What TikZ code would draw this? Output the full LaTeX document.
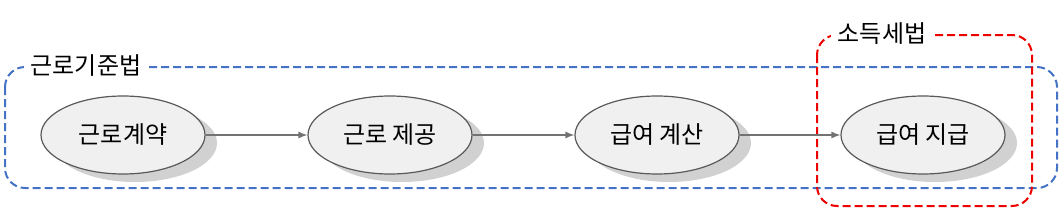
\documentclass[tikz,border=0pt]{standalone}
\usepackage{fontspec}
\setmainfont{Noto Sans CJK KR}
\usetikzlibrary{shapes.geometric,arrows.meta,shadows}
\begin{document}
\begin{tikzpicture}[x=1pt,y=-1pt,
  proc/.style={ellipse,draw=black!65,line width=1.2pt,fill=black!6,minimum width=164pt,minimum height=78pt,inner sep=0pt,font=\fontsize{24}{28}\selectfont,
    drop shadow={shadow xshift=12pt,shadow yshift=-8pt,fill=black!18,opacity=1}},
  conn/.style={draw=black!55,line width=1.2pt,-{Latex[length=9pt,width=7pt]}},
  grp/.style={line width=2pt,rounded corners=20pt,dash pattern=on 8pt off 4pt},
  lbl/.style={fill=white,inner xsep=7pt,inner ysep=2pt,font=\fontsize{24}{28}\selectfont}]
\useasboundingbox (0,0) rectangle (1061,214);
\definecolor{grpblue}{RGB}{68,114,196}
\definecolor{grpred}{RGB}{238,0,0}
\draw[grp,draw=grpblue] (5,67) rectangle (1057,188);
\node[lbl] (lawA) at (86,66) {근로기준법};
\draw[grp,draw=grpred] (817,35) rectangle (1032,206);
\node[lbl] (lawB) at (882,34) {소득세법};
\node[proc] (a) at (123,135) {근로계약};
\node[proc] (b) at (390,135) {근로 제공};
\node[proc] (c) at (657,135) {급여 계산};
\node[proc] (d) at (923,135) {급여 지급};
\draw[conn] (a) -- (b);
\draw[conn] (b) -- (c);
\draw[conn] (c) -- (d);
\end{tikzpicture}
\end{document}
